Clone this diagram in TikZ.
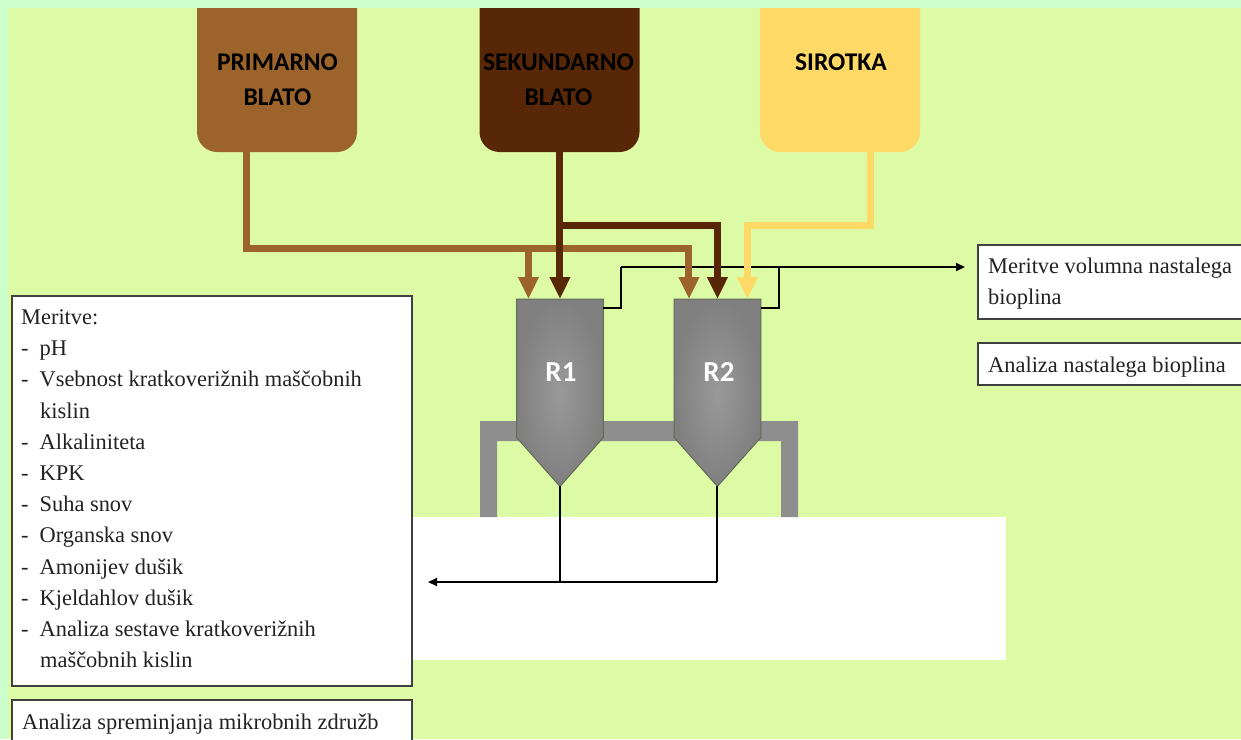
\documentclass[tikz,border=0pt]{standalone}
\usepackage{fontspec}
\setmainfont{Liberation Serif}
\newfontfamily\labelfont{Carlito}
\usetikzlibrary{arrows.meta,calc}
\definecolor{outerbg}{HTML}{CCFFCC}
\definecolor{innerbg}{HTML}{DDFBA5}
\definecolor{primcol}{HTML}{9C642A}
\definecolor{sekcol}{HTML}{572707}
\definecolor{sircol}{HTML}{FFD966}
\definecolor{framecol}{HTML}{8E8E8E}
\definecolor{edgecol}{HTML}{5F6B55}
\definecolor{boxedge}{HTML}{404040}
\definecolor{textcol}{HTML}{222222}
\tikzset{
  x=1pt,y=-1pt,
  tank/.style={anchor=north west,minimum width=160pt,minimum height=144pt,inner sep=0pt},
  tanklabel/.style={font=\labelfont\bfseries\fontsize{25.5}{35}\selectfont,align=center,text=black},
  pipearrow/.style={line width=7pt,-{Triangle[width=19.5pt,length=22pt]}},
  thin flow/.style={line width=2pt,black},
  thin arrow/.style={line width=2pt,black,-{Triangle[width=8pt,length=9pt]}},
  infobox/.style={draw=boxedge,line width=2pt,fill=white,anchor=north west,inner sep=0pt},
  infotext/.style={inner sep=0pt,text=textcol,font=\fontsize{22.4}{31.2}\selectfont,align=left},
  reactor/.style={anchor=north west,minimum width=86.5pt,minimum height=138pt,inner sep=0pt},
  reactorbody/.style={draw=edgecol,line width=1pt,inner color=black!40,outer color=black!50},
  reactorlabel/.style={text=white,font=\labelfont\bfseries\fontsize{29}{30}\selectfont},
}
\begin{document}
\begin{tikzpicture}
\useasboundingbox (0,0) rectangle (1241,739);
\clip (0,0) rectangle (1241,739);
\fill[outerbg] (0,0) rectangle (1241,739);
\fill[innerbg] (8,8) rectangle (1241,739);
% white band
\fill[white] (412,517) rectangle (1006,660);
% supporting frame
\fill[framecol] (480,517) -- (480,421) -- (798,421) -- (798,517) -- (781,517) -- (781,441) -- (497,441) -- (497,517) -- cycle;
% tanks
\foreach \px/\col in {197/primcol,479.5/sekcol,760/sircol}{
  \fill[\col] (\px,8) -- (\px+160,8) -- (\px+160,132) arc[start angle=0,end angle=90,x radius=20pt,y radius=-20pt] -- (\px+20,152) arc[start angle=90,end angle=180,x radius=20pt,y radius=-20pt] -- cycle;
}
\node[tank] (primtank) at (197,8) {};
\node[tank] (sektank) at (479.5,8) {};
\node[tank] (sirtank) at (760,8) {};
\node[tanklabel] (primlabel) at (277.5,80) {PRIMARNO\\BLATO};
\node[tanklabel] (seklabel) at (558.5,80) {SEKUNDARNO\\BLATO};
\node[tanklabel] (sirlabel) at (841,62) {SIROTKA};
% reactors
\node[reactor] (R1) at (516.5,299) {};
\node[reactor] (R2) at (674,299) {};
\foreach \r in {R1,R2}{
  \path[reactorbody] (\r.north west) -- (\r.south west) -- ($(\r.south)+(0,49)$) -- (\r.south east) -- (\r.north east) -- cycle;
}
\node[reactorlabel] (R1label) at (561,372) {R1};
\node[reactorlabel] (R2label) at (719,372) {R2};
% info boxes
\node[infobox,minimum width=400.5pt,minimum height=390pt] (meas) at (10.5,294.5) {};
\node[infobox,minimum width=400.5pt,minimum height=60pt] (micro) at (10.5,699) {};
\node[infobox,minimum width=280pt,minimum height=74.5pt] (vol) at (977,243.5) {};
\node[infobox,minimum width=280pt,minimum height=42.5pt] (ana) at (977,341.5) {};
\node[infotext,anchor=north west] (meastext) at (21,309.5) {%
Meritve:\\
-\hspace{11pt}pH\\
-\hspace{11pt}Vsebnost kratkoverižnih maščobnih\\
\hspace{19pt}kislin\\
-\hspace{11pt}Alkaliniteta\\
-\hspace{11pt}KPK\\
-\hspace{11pt}Suha snov\\
-\hspace{11pt}Organska snov\\
-\hspace{11pt}Amonijev dušik\\
-\hspace{11pt}Kjeldahlov dušik\\
-\hspace{11pt}Analiza sestave kratkoverižnih\\
\hspace{19pt}maščobnih kislin};
\node[infotext,anchor=west] (microtext) at (22,724) {Analiza spreminjanja mikrobnih združb};
\node[infotext,anchor=north west] (voltext) at (988,258) {Meritve volumna nastalega\\bioplina};
\node[infotext,anchor=west] (anatext) at (988,367) {Analiza nastalega bioplina};
% named routing points
\coordinate (primout) at ($(primtank.south west)+(49,0)$);
\coordinate (primcorner) at ($(primout)+(0,96)$);
\coordinate (R1a) at ($(R1.north)+(-31.5,0)$);
\coordinate (R1b) at (R1.north);
\coordinate (R2a) at ($(R2.north)+(-28.5,0)$);
\coordinate (R2b) at (R2.north);
\coordinate (R2c) at ($(R2.north)+(30,0)$);
\coordinate (sekout) at (R1b |- sektank.south);
\coordinate (sirout) at ($(sirtank.south west)+(110,0)$);
\coordinate (gasstart) at (621,267);
\coordinate (gasend) at (965,267);
\coordinate (drain) at (428,582);
% gas lines
\draw[thin flow] (R1.north east |- 0,308) -- (621,308) -- (gasstart);
\draw[thin flow] (R2.north east |- 0,308) -- (779,308) -- (779,267);
\draw[thin arrow] (gasstart) -- (gasend);
% drains
\draw[thin flow] ($(R2.south)+(0,49)$) -- (R2.south |- drain);
\draw[thin arrow] (R2.south |- drain) -- (drain);
\draw[thin flow] ($(R1.south)+(0,49)$) -- (R1.south |- drain);
% coloured feeds
\draw[pipearrow,primcol] (primout) -- (primcorner) -| (R2a);
\draw[pipearrow,primcol] (R1a |- primcorner) -- (R1a);
\draw[pipearrow,sekcol] (sekout) -- (R1b);
\draw[pipearrow,sekcol] (sekout |- 0,225) -| (R2b);
\draw[pipearrow,sircol] (sirout) |- (R2c |- 0,225) -- (R2c);
\end{tikzpicture}
\end{document}
